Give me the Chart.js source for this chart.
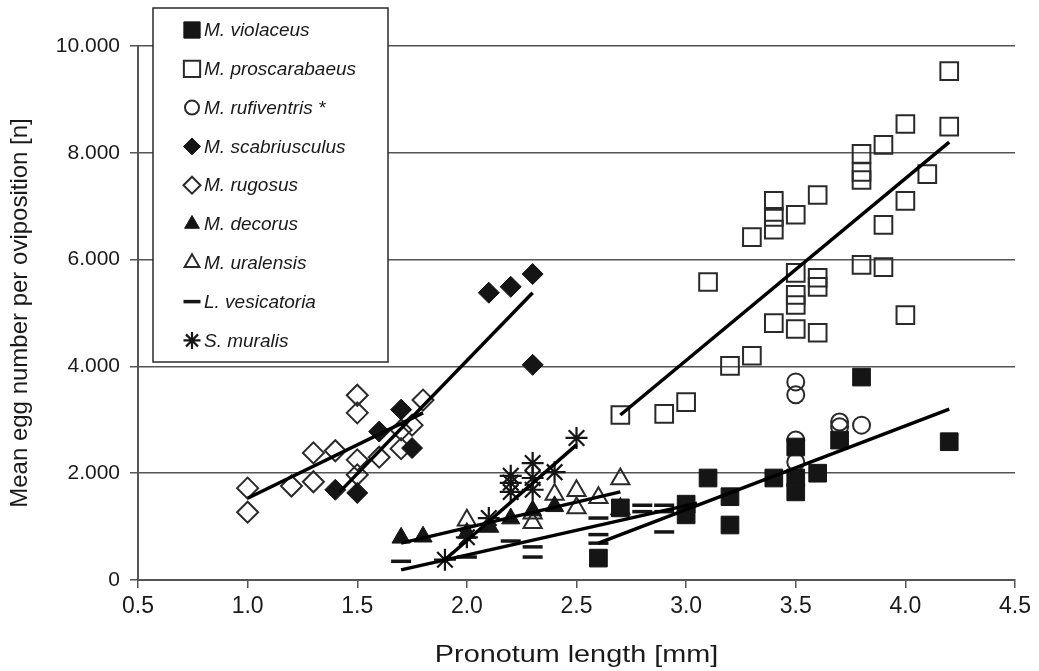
<!DOCTYPE html>
<html><head><meta charset="utf-8">
<script src="https://cdn.jsdelivr.net/npm/chart.js@4.4.1/dist/chart.umd.min.js"></script>
<style>html,body{margin:0;padding:0;background:#fff}#wrap{width:1039px;height:671px}</style>
</head><body><div id="wrap"><canvas id="c" width="1039" height="671"></canvas></div>
<script>
const xTicks = [0.5,1.0,1.5,2.0,2.5,3.0,3.5,4.0,4.5];
const yTicks = [0,2000,4000,6000,8000,10000];
const xTitle = 'Pronotum length [mm]';
const yTitle = 'Mean egg number per oviposition [n]';
const speciesNames = ["M. violaceus","M. proscarabaeus","M. rufiventris *","M. scabriusculus","M. rugosus","M. decorus","M. uralensis","L. vesicatoria","S. muralis"];

const violaceus = [[2.6,410],[2.7,1350],[3.0,1420],[3.0,1220],[3.1,1910],[3.2,1560],[3.2,1030],[3.4,1910],[3.5,2490],[3.5,1910],[3.5,1650],[3.6,2000],[3.7,2620],[3.8,3800],[4.2,2590]];
const proscarabaeus = [[2.7,3090],[2.9,3110],[3.0,3330],[3.1,5580],[3.2,4010],[3.3,4200],[3.3,6420],[3.4,7100],[3.4,6800],[3.4,6560],[3.4,4810],[3.5,6840],[3.5,5750],[3.5,5340],[3.5,5150],[3.5,4700],[3.6,7210],[3.6,5660],[3.6,5490],[3.6,4630],[3.8,7980],[3.8,7640],[3.8,7490],[3.8,5900],[3.9,8150],[3.9,6650],[3.9,5860],[4.0,8540],[4.0,7100],[4.0,4960],[4.1,7600],[4.2,9530],[4.2,8490]];
const rufiventris = [[3.5,3710],[3.5,3470],[3.5,2620],[3.5,2210],[3.7,2960],[3.7,2870],[3.8,2900]];
const scabriusculus = [[1.4,1690],[1.5,1630],[1.6,2780],[1.7,3190],[1.75,2470],[2.1,5380],[2.2,5490],[2.3,5730],[2.3,4030]];
const rugosus = [[1.0,1720],[1.0,1270],[1.2,1760],[1.3,2380],[1.3,1840],[1.4,2420],[1.5,3460],[1.5,3130],[1.5,2250],[1.5,1970],[1.6,2300],[1.7,2460],[1.7,2810],[1.75,2900],[1.8,3370]];
const decorus = [[1.7,790],[1.8,810],[2.0,880],[2.1,1000],[2.2,1150],[2.3,1300],[2.4,1380]];
const uralensis = [[2.0,1120],[2.1,1000],[2.3,1070],[2.3,1250],[2.4,1600],[2.5,1670],[2.5,1350],[2.6,1540],[2.7,1890],[2.7,1330]];
const vesicatoria = [[1.7,350],[2.0,430],[2.2,730],[2.3,620],[2.3,430],[2.6,1160],[2.6,850],[2.6,690],[2.8,1400],[2.8,1280],[2.9,1400],[2.9,1280],[2.9,900]];
const muralis = [[1.9,380],[2.0,800],[2.1,1160],[2.2,1650],[2.2,1820],[2.2,1950],[2.3,1690],[2.3,1910],[2.3,2190],[2.4,2020],[2.5,2660]];

const lineRugosus = [[1.0,1530],[1.8,3130]];
const lineScabriusculus = [[1.42,1650],[2.3,5380]];
const lineProscarabaeus = [[2.7,3090],[4.2,8200]];
const lineViolaceus = [[2.6,690],[4.2,3200]];
const lineUralensis = [[1.7,690],[2.7,1650]];
const lineVesicatoria = [[1.7,190],[3.05,1440]];
const lineMuralis = [[1.9,380],[2.5,2530]];

const FONT = "'Liberation Sans', Arial, sans-serif";
const INK = '#1a1a1a';
const toXY = a => a.map(p => ({x:p[0], y:p[1]}));

const styles = [
  {style:'rect', r:12.5, fill:'#151515', border:'#151515', bw:1},
  {style:'rect', r:12.5, fill:'rgba(0,0,0,0)', border:'#2a2a2a', bw:2},
  {style:'circle', r:8.5, fill:'rgba(0,0,0,0)', border:'#2a2a2a', bw:2},
  {style:'rectRot', r:10.5, fill:'#151515', border:'#151515', bw:1},
  {style:'rectRot', r:10.5, fill:'rgba(0,0,0,0)', border:'#2a2a2a', bw:2},
  {style:'triangle', r:10.5, fill:'#151515', border:'#151515', bw:1},
  {style:'triangle', r:10.5, fill:'rgba(0,0,0,0)', border:'#2a2a2a', bw:2},
  {style:'line', r:10, fill:'#151515', border:'#151515', bw:3.5},
  {style:'star', r:11, fill:'#151515', border:'#151515', bw:2.2}
];
const seriesData = [violaceus, proscarabaeus, rufiventris, scabriusculus, rugosus, decorus, uralensis, vesicatoria, muralis];

const datasets = [];
seriesData.forEach((d,i) => {
  const s = styles[i];
  datasets.push({type:'scatter', label:speciesNames[i], data:toXY(d), pointStyle:s.style, pointRadius:s.r, pointHoverRadius:s.r,
    backgroundColor:s.fill, borderColor:s.border, pointBorderWidth:s.bw, borderWidth:s.bw, order:2});
});
[lineRugosus, lineScabriusculus, lineProscarabaeus, lineViolaceus, lineUralensis, lineVesicatoria, lineMuralis].forEach(l => {
  datasets.push({type:'line', label:'', data:toXY(l), borderColor:'#000', borderWidth:3.5, pointRadius:0, fill:false, order:1, showLine:true});
});

const decorPlugin = {
  id:'decor',
  afterDraw(chart){
    const ctx = chart.ctx;
    const ca = chart.chartArea;
    ctx.save();
    // axis titles
    ctx.fillStyle = INK;
    ctx.textAlign = 'center';
    ctx.textBaseline = 'middle';
    ctx.font = "24px " + FONT;
    ctx.save();
    ctx.translate((ca.left+ca.right)/2, 655);
    ctx.scale(1.2, 1);
    ctx.fillText(xTitle, 0, 0);
    ctx.restore();
    ctx.save();
    ctx.translate(20, (ca.top+ca.bottom)/2);
    ctx.rotate(-Math.PI/2);
    ctx.fillText(yTitle, 0, 0);
    ctx.restore();
    // legend box
    ctx.fillStyle = '#fff';
    ctx.fillRect(153, 8, 235, 354);
    ctx.strokeStyle = '#2a2a2a';
    ctx.lineWidth = 1.5;
    ctx.strokeRect(153, 8, 235, 354);
    const y0 = 30, dy = 38.8;
    speciesNames.forEach((n,i) => {
      const s = styles[i];
      const y = y0 + i*dy;
      ctx.fillStyle = s.fill; ctx.strokeStyle = s.border; ctx.lineWidth = s.bw;
      const r = s.style==='rect' ? 11.5 : (s.style==='circle' ? 7 : 8.5);
      Chart.helpers.drawPoint(ctx, {pointStyle:s.style, radius:r, rotation:0, borderWidth:s.bw}, 192, y);
      ctx.fillStyle = INK;
      ctx.font = "italic 19px " + FONT;
      ctx.textBaseline = 'middle';
      ctx.textAlign = 'left';
      ctx.fillText(n, 204, y+1);
    });
    ctx.restore();
  }
};

new Chart(document.getElementById('c'), {
  data:{datasets},
  options:{
    responsive:false, animation:false,
    layout:{padding:{left:0, right:24, top:46, bottom:0}},
    plugins:{legend:{display:false}, tooltip:{enabled:false}},
    scales:{
      x:{type:'linear', min:0.5, max:4.5,
        afterBuildTicks(ax){ ax.ticks = xTicks.map(v=>({value:v})); },
        afterFit(ax){ ax.height = 91; },
        ticks:{color:INK, font:{family:FONT, size:23}, padding:5, callback:v=>v.toFixed(1)},
        grid:{drawOnChartArea:false, drawTicks:true, tickLength:8, color:'#555', lineWidth:1.5},
        border:{color:'#555', width:2},
        title:{display:false}
      },
      y:{type:'linear', min:0, max:10000,
        afterBuildTicks(ax){ ax.ticks = yTicks.map(v=>({value:v})); },
        afterFit(ax){ ax.width = 138; },
        ticks:{color:INK, font:{family:FONT, size:21}, padding:10,
          callback:v=> v===0 ? '0' : (v/1000).toFixed(3)},
        grid:{drawOnChartArea:true, drawTicks:true, tickLength:8, color:'#555', lineWidth:1.5},
        border:{color:'#555', width:2},
        title:{display:false}
      }
    }
  },
  plugins:[decorPlugin]
});
</script></body></html>
